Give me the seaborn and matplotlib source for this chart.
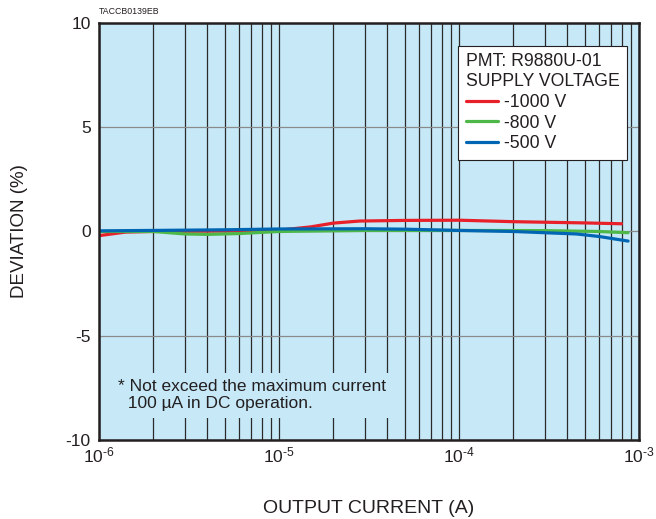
"""
Output current linearity chart for PMT R9880U-01.

Deviation (%) against output current (A) for three supply voltages.
"""

import matplotlib
matplotlib.use("Agg")

import pandas as pd
import seaborn as sns
import matplotlib.pyplot as plt
from matplotlib.ticker import FixedLocator, FixedFormatter, LogLocator, NullFormatter


CURRENT_1000V: list[float] = [
    1e-6, 1.4e-6, 2e-6, 5e-6, 1e-5, 1.5e-5, 2e-5, 2.8e-5,
    5e-5, 1e-4, 2e-4, 5e-4, 8e-4
]
DEVIATION_1000V: list[float] = [
    -0.2, -0.03, 0.0, 0.02, 0.06, 0.22, 0.4, 0.5,
    0.53, 0.54, 0.47, 0.41, 0.37
]

CURRENT_800V: list[float] = [
    1e-6, 2e-6, 3e-6, 4e-6, 6e-6, 1e-5, 3e-5,
    1e-4, 3e-4, 6e-4, 8.7e-4
]
DEVIATION_800V: list[float] = [
    0.0, 0.0, -0.12, -0.14, -0.1, 0.0, 0.05,
    0.05, 0.04, 0.0, -0.06
]

CURRENT_500V: list[float] = [
    1e-6, 2e-6, 5e-6, 1e-5, 3e-5, 5e-5, 1e-4,
    2e-4, 4.5e-4, 6e-4, 8.7e-4
]
DEVIATION_500V: list[float] = [
    0.03, 0.05, 0.08, 0.12, 0.13, 0.11, 0.05,
    0.0, -0.12, -0.24, -0.46
]

SERIES_LABELS: list[str] = ["-1000 V", "-800 V", "-500 V"]
SERIES_COLORS: list[str] = ["#E8202A", "#4DB848", "#0066B3"]

X_TICKS: list[float] = [1e-6, 1e-5, 1e-4, 1e-3]
X_TICK_LABELS: list[str] = [
    r"$\mathregular{10^{\text{-}6}}$",
    r"$\mathregular{10^{\text{-}5}}$",
    r"$\mathregular{10^{\text{-}4}}$",
    r"$\mathregular{10^{\text{-}3}}$"
]
Y_TICKS: list[int] = [-10, -5, 0, 5, 10]

BACKGROUND = "#C6E8F7"
INK = "#231f20"


def create_dataframe() -> pd.DataFrame:
    """
    Build long-form DataFrame of all series.
    """
    frames = []
    for label, xs, ys in zip(
        SERIES_LABELS,
        [CURRENT_1000V, CURRENT_800V, CURRENT_500V],
        [DEVIATION_1000V, DEVIATION_800V, DEVIATION_500V]
    ):
        frames.append(
            pd.DataFrame({"Current": xs, "Deviation": ys, "Voltage": label})
        )
    return pd.concat(frames, ignore_index=True)


def create_lineplot(dataframe: pd.DataFrame) -> None:
    """
    Draw deviation chart and save it.
    """
    sns.set_style("ticks")
    plt.rcParams["font.family"] = ["Liberation Sans", "DejaVu Sans"]
    plt.rcParams["mathtext.fontset"] = "custom"
    plt.rcParams["mathtext.rm"] = "Liberation Sans"
    plt.rcParams["mathtext.it"] = "Liberation Sans:italic"
    plt.rcParams["axes.unicode_minus"] = False
    plt.rcParams["text.color"] = INK
    plt.rcParams["axes.labelcolor"] = INK
    plt.rcParams["xtick.color"] = INK
    plt.rcParams["ytick.color"] = INK

    fig = plt.figure(figsize=(6.56, 5.19), dpi=100)
    ax = fig.add_axes([0.151, 0.152, 0.823, 0.804])
    ax.set_facecolor(BACKGROUND)

    sns.lineplot(
        data=dataframe,
        x="Current",
        y="Deviation",
        hue="Voltage",
        hue_order=SERIES_LABELS,
        palette=SERIES_COLORS,
        linewidth=2.3,
        ax=ax,
        zorder=3
    )

    ax.set_xscale("log")
    ax.set_xlim(1e-6, 1e-3)
    ax.set_ylim(-10, 10)
    ax.set_yticks(Y_TICKS)

    ax.xaxis.set_major_locator(FixedLocator(X_TICKS))
    ax.xaxis.set_major_formatter(FixedFormatter(X_TICK_LABELS))
    ax.xaxis.set_minor_locator(
        LogLocator(base=10, subs=range(2, 10), numticks=20)
    )
    ax.xaxis.set_minor_formatter(NullFormatter())

    ax.grid(axis="x", which="both", color="#2a2a2a", linewidth=0.9)
    ax.grid(axis="y", which="major", color="#8a8a8a", linewidth=0.9)
    ax.set_axisbelow(True)

    ax.tick_params(axis="both", which="both", length=0, labelsize=12.5)
    ax.tick_params(axis="x", pad=4)
    ax.tick_params(axis="y", pad=6)

    for spine in ax.spines.values():
        spine.set_color(INK)
        spine.set_linewidth(1.8)
        spine.set_zorder(5)

    ax.set_xlabel("OUTPUT CURRENT (A)", fontsize=14, labelpad=25)
    ax.set_ylabel("DEVIATION (%)", fontsize=13.5, labelpad=27)

    handles, labels = ax.get_legend_handles_labels()
    legend = ax.legend(
        handles,
        labels,
        title="PMT: R9880U-01\nSUPPLY VOLTAGE",
        loc="upper right",
        bbox_to_anchor=(0.978, 0.945),
        borderaxespad=0,
        fontsize=12.7,
        title_fontsize=12.7,
        alignment="left",
        frameon=True,
        fancybox=False,
        edgecolor=INK,
        framealpha=1,
        handlelength=1.8,
        handletextpad=0.35,
        labelspacing=0.22,
        borderpad=0.42
    )
    legend.get_title().set_linespacing(1.2)
    legend.get_frame().set_linewidth(0.8)
    legend.set_zorder(6)
    for line in legend.get_lines():
        line.set_linewidth(2.3)

    ax.text(
        0.035, 0.108,
        "* Not exceed the maximum current\n  100 \u00b5A in DC operation.",
        transform=ax.transAxes,
        ha="left",
        va="center",
        fontsize=12.5,
        linespacing=1.1,
        bbox={"facecolor": BACKGROUND, "edgecolor": "none", "pad": 5},
        zorder=4
    )

    ax.text(
        0.0, 1.017,
        "TACCB0139EB",
        transform=ax.transAxes,
        ha="left",
        va="bottom",
        fontsize=6.3
    )

    fig.savefig("out.png", dpi=100)


def main() -> None:
    """
    Execute chart creation.
    """
    dataframe = create_dataframe()
    create_lineplot(dataframe)


if __name__ == "__main__":
    main()
